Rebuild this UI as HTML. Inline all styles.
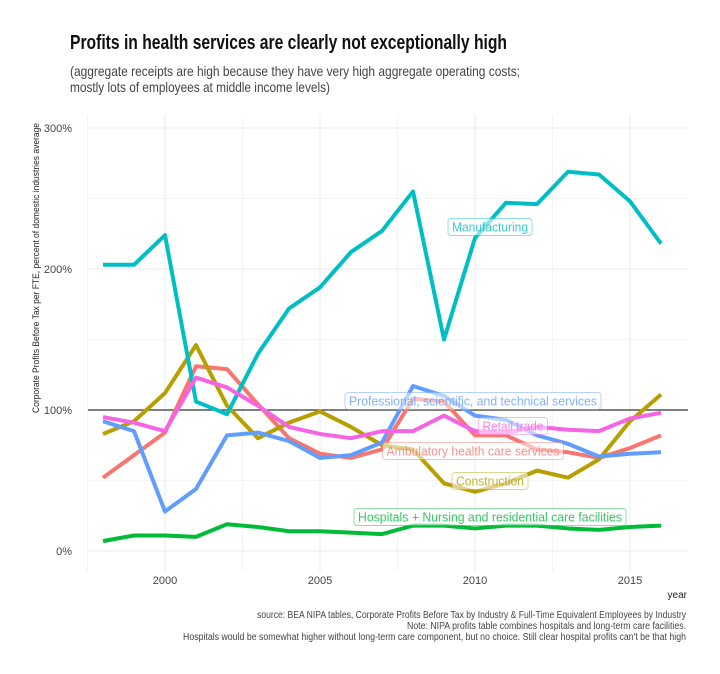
<!DOCTYPE html>
<html><head><meta charset="utf-8"><style>
body{margin:0;background:#fff}
svg{display:block;font-family:"Liberation Sans Narrow","Liberation Sans",sans-serif}
</style></head><body>
<svg id="chart" width="720" height="674" viewBox="0 0 720 674">
<text x="70" y="49" font-size="20" font-weight="bold" fill="#111" textLength="437" lengthAdjust="spacingAndGlyphs">Profits in health services are clearly not exceptionally high</text>
<text x="70" y="76" font-size="14" fill="#444" textLength="450" lengthAdjust="spacingAndGlyphs">(aggregate receipts are high because they have very high aggregate operating costs;</text>
<text x="70" y="92" font-size="14" fill="#444" textLength="260" lengthAdjust="spacingAndGlyphs">mostly lots of employees at middle income levels)</text>
<g id="grid"></g>
<g id="axes"></g>
<g id="lines"></g>
<g id="labels"></g>
<text transform="translate(39,268) rotate(-90)" text-anchor="middle" font-size="9.5" fill="#222" textLength="290" lengthAdjust="spacingAndGlyphs">Corporate Profits Before Tax per FTE, percent of domestic industries average</text>
<text x="687" y="598" text-anchor="end" font-size="10" fill="#222">year</text>
<text x="686" y="618" text-anchor="end" font-size="10" fill="#444" textLength="429" lengthAdjust="spacingAndGlyphs">source: BEA NIPA tables, Corporate Profits Before Tax by Industry &amp; Full-Time Equivalent Employees by Industry</text>
<text x="686" y="629" text-anchor="end" font-size="10" fill="#444" textLength="279" lengthAdjust="spacingAndGlyphs">Note: NIPA profits table combines hospitals and long-term care facilities.</text>
<text x="686" y="640" text-anchor="end" font-size="10" fill="#444" textLength="503" lengthAdjust="spacingAndGlyphs">Hospitals would be somewhat higher without long-term care component, but no choice. Still clear hospital profits can't be that high</text>
</svg>
<script>
const years = [1998,1999,2000,2001,2002,2003,2004,2005,2006,2007,2008,2009,2010,2011,2012,2013,2014,2015,2016];
const manufacturing = [203,203,224,106,97,140,172,187,212,227,255,150,222,247,246,269,267,248,218];
const construction = [83,92,112,146,103,80,91,99,88,75,72,48,42,48,57,52,65,92,111];
const professional = [92,85,28,44,82,84,78,66,68,77,117,110,96,93,82,76,67,69,70];
const ambulatory = [52,68,84,131,129,104,80,69,66,72,108,106,82,82,72,70,66,73,82];
const retail = [95,91,85,123,116,103,88,83,80,85,85,96,85,84,88,86,85,94,98];
const hospitals = [7,11,11,10,19,17,14,14,13,12,18,18,16,18,18,16,15,17,18];
const yTicks = [0,100,200,300];
const yTickLabels = ["0%","100%","200%","300%"];
const xTicks = [2000,2005,2010,2015];
const xTickLabels = ["2000","2005","2010","2015"];
const NS="http://www.w3.org/2000/svg";
const L=88,R=688,T=115,B=572;
const x=v=>165+(v-2000)*31;
const y=v=>551-v*1.41;
function mk(tag,parent,attrs){const e=document.createElementNS(NS,tag);for(const k in attrs)e.setAttribute(k,attrs[k]);parent.appendChild(e);return e;}
const grid=document.getElementById('grid'),axes=document.getElementById('axes'),lines=document.getElementById('lines'),labels=document.getElementById('labels');
for(let v=0;v<=300;v+=50){const g=mk('line',grid,{x1:L,x2:R,y1:y(v),y2:y(v),stroke:'#ebebeb','stroke-width':v%100?0.6:1});

}
for(let v=1997.5;v<=2017;v+=2.5){const g=mk('line',grid,{x1:x(v),x2:x(v),y1:T,y2:B,stroke:'#ebebeb','stroke-width':v%5?0.6:1});

}
yTicks.forEach((v,i)=>{const t=mk('text',axes,{x:72,y:y(v)+4,'text-anchor':'end','font-size':11,fill:'#444'});t.textContent=yTickLabels[i];

});
xTicks.forEach((v,i)=>{const t=mk('text',axes,{x:x(v),y:584,'text-anchor':'middle','font-size':11,fill:'#444'});t.textContent=xTickLabels[i];

});
const ref=mk('line',axes,{x1:L,x2:R,y1:y(100),y2:y(100),stroke:'#333','stroke-width':1.3});


const series=[
 ['ambulatory',ambulatory,'#F8766D'],['construction',construction,'#B79F00'],['hospitals',hospitals,'#00BA38'],
 ['manufacturing',manufacturing,'#00BFC4'],['professional',professional,'#619CFF'],['retail',retail,'#F564E3']];
series.forEach(([n,d,c])=>{const p=mk('polyline',lines,{points:d.map((v,i)=>x(years[i])+','+y(v)).join(' '),fill:'none',stroke:c,'stroke-width':4,'stroke-linejoin':'round'});

});
const labs=[['Manufacturing',490,227,'#00BFC4',84],['Professional, scientific, and technical services',473,401,'#619CFF',256],
 ['Retail trade',513,426,'#F564E3',69],['Ambulatory health care services',473,451,'#F8766D',181],
 ['Construction',490,481,'#B79F00',76],['Hospitals + Nursing and residential care facilities',490,517,'#00BA38',272]];
labs.forEach(([t,cx,cy,c,w])=>{const g=mk('g',labels,{});


mk('rect',g,{x:cx-w/2,y:cy-8.5,width:w,height:17,rx:3,fill:'rgba(255,255,255,0.55)',stroke:c,'stroke-opacity':0.45,'stroke-width':1});
const tx=mk('text',g,{x:cx,y:cy+4.5,'text-anchor':'middle','font-size':12.5,fill:c,'fill-opacity':0.8,textLength:w-8,lengthAdjust:'spacingAndGlyphs',style:'font-family:"Liberation Sans",sans-serif'});tx.textContent=t;});
</script>
</body></html>
